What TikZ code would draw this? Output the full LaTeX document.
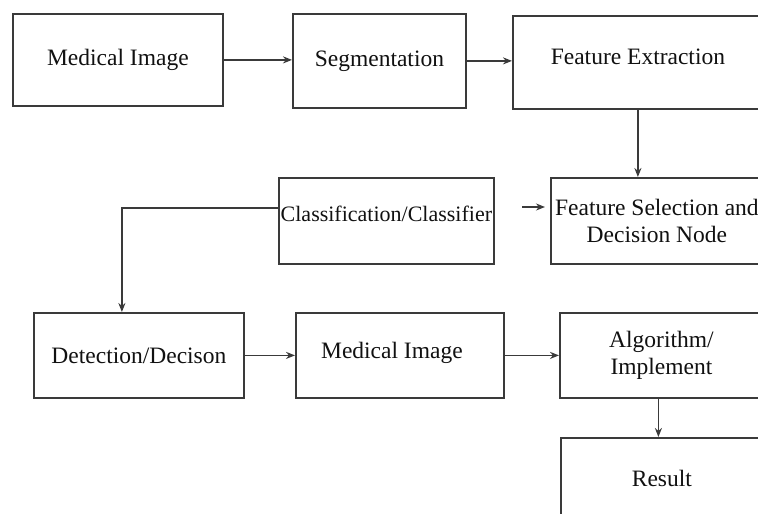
\documentclass[tikz,border=0pt]{standalone}
\usepackage{fontspec}
\setmainfont{Liberation Serif}
\usetikzlibrary{arrows.meta,calc}
\definecolor{edge}{HTML}{3A3A3A}
\definecolor{ink}{HTML}{111111}
\tikzset{
  x=1pt, y=-1pt,
  box/.style={draw=edge, line width=1.8pt, rectangle, anchor=north west,
    inner sep=0pt, align=center, text=ink,
    font=\fontsize{23.5}{27}\selectfont},
  link/.style={draw=edge, line width=1.5pt,
    -{Stealth[length=9pt,width=7pt]}},
}
\begin{document}
\begin{tikzpicture}
  \useasboundingbox (0,0) rectangle (758,514);
  \clip (0,0) rectangle (758,514);
  \fill[white] (0,0) rectangle (758,514);

  % top row
  \node[box, minimum width=210pt, minimum height=92pt] (A) at (12,13) {Medical Image};
  \node[box, minimum width=173pt, minimum height=94pt] (B) at (292,13) {Segmentation};
  \node[box, minimum width=250pt, minimum height=93pt, text depth=12pt] (C) at (512,15) {Feature Extraction};

  % middle row
  \node[box, minimum width=212pt, minimum height=86pt] (D) at (550,177)
       {Feature Selection and\\Decision Node};
  \node[box, minimum width=215pt, minimum height=86pt, text depth=14pt,
        font=\fontsize{22}{26}\selectfont] (E) at (278,177) {Classification/Classifier};

  % bottom row
  \node[box, minimum width=210pt, minimum height=85pt] (F) at (33,312) {Detection/Decison};
  \node[box, minimum width=208pt, minimum height=85pt, text depth=10pt] (G) at (295,312) {Medical Image\hspace*{16pt}};
  \node[box, minimum width=203pt, minimum height=85pt] (H) at (559,312) {Algorithm/\\Implement};
  \node[box, minimum width=202pt, minimum height=81pt] (I) at (560,437) {Result};

  % connectors
  \draw[link] (A.east) -- (A.east -| B.west);
  \draw[link] (B.east) -- (B.east -| C.west);
  \draw[link] (C.south) -- (C.south |- D.north);
  \coordinate (s) at (522,207);
  \draw[link, shorten >=5pt] (s) -- (s -| D.west);
  \draw[link] ([yshift=13pt]E.west) -| ([xshift=-17pt]F.north);
  \draw[link] (F.east) -- (F.east -| G.west);
  \draw[link] (G.east) -- (G.east -| H.west);
  \draw[link] ([xshift=-3pt]H.south) -- ([xshift=-3pt]H.south |- I.north);
\end{tikzpicture}
\end{document}
